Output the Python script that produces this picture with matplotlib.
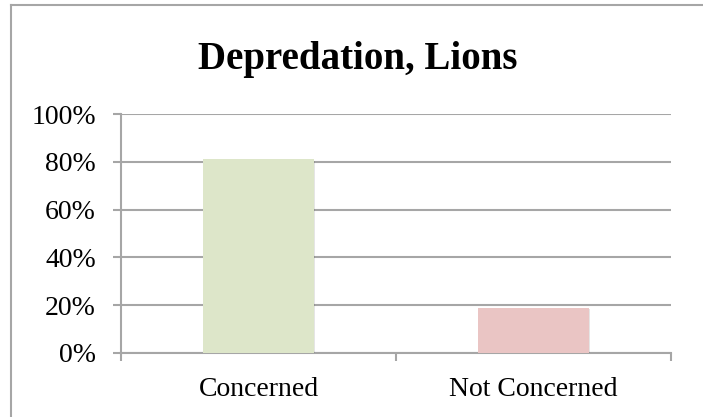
import matplotlib
matplotlib.use("Agg")
import matplotlib.pyplot as plt
from matplotlib.lines import Line2D
import matplotlib.patheffects as pe

plt.rcParams.update({
    "font.family": ["Liberation Serif", "DejaVu Serif"],
    "font.size": 20,
})

categories = ["Concerned", "Not Concerned"]
shares = [0.81, 0.19]
bar_colors = ["#dde6c9", "#eac5c4"]
y_ticks = [0, 0.2, 0.4, 0.6, 0.8, 1.0]
y_labels = ["0%", "20%", "40%", "60%", "80%", "100%"]

W, H = 703, 417
fig = plt.figure(figsize=(W / 100, H / 100), dpi=100)

# axes placed in pixel terms: x 121..671, y 114..353 (from top)
ax = fig.add_axes([121 / W, 1 - 353 / H, 550 / W, 239 / H])

grid_c = "#a6a6a6"
xpos = list(range(len(categories)))
bars = ax.bar(xpos, shares, width=0.404, color=bar_colors, zorder=3)
for b in bars:
    b.set_path_effects([pe.SimplePatchShadow(offset=(1, -1), shadow_rgbFace="#000000", alpha=0.1),
                        pe.Normal()])

ax.set_xlim(-0.5, len(categories) - 0.5)
ax.set_ylim(0, 1)
ax.set_yticks(y_ticks)
ax.set_yticklabels(y_labels)
ax.yaxis.grid(True, color=grid_c, linewidth=1.5, zorder=0)
ax.set_axisbelow(True)

# major ticks sit between categories, labels on minor ticks
ax.set_xticks([i - 0.5 for i in range(len(categories) + 1)])
ax.set_xticklabels([])
ax.set_xticks(xpos, minor=True)
ax.set_xticklabels(categories, minor=True)
ax.tick_params(axis="x", which="minor", length=0, pad=17)
ax.tick_params(axis="x", which="major", length=6, width=1.5, color=grid_c, direction="out")
ax.tick_params(axis="y", length=6, width=1.5, color=grid_c, direction="out", pad=12)

for s in ["top", "right"]:
    ax.spines[s].set_visible(False)
for s in ["left", "bottom"]:
    ax.spines[s].set_color(grid_c)
    ax.spines[s].set_linewidth(1.5)

fig.text(358 / W, 1 - 69 / H, "Depredation, Lions", ha="center", va="baseline",
         fontsize=28, fontweight="bold")

# chart frame (top and left edges visible)
fig.add_artist(Line2D([11 / W, 1.0], [1 - 5 / H, 1 - 5 / H], color=grid_c, lw=1.5))
fig.add_artist(Line2D([11 / W, 11 / W], [0, 1 - 5 / H], color=grid_c, lw=1.5))

fig.savefig("out.png", dpi=100)
